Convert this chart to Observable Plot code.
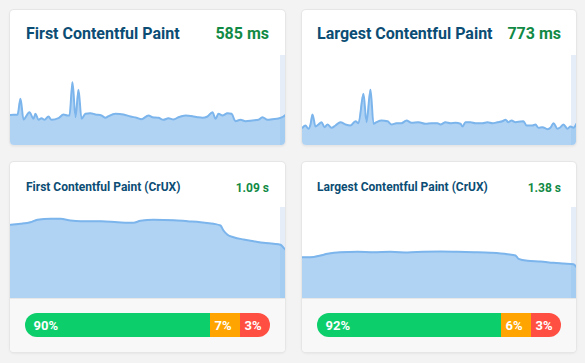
<!DOCTYPE html>
<html>
<head>
<meta charset="utf-8">
<script src="https://cdn.jsdelivr.net/npm/d3@7"></script>
<script src="https://cdn.jsdelivr.net/npm/@observablehq/plot@0.6"></script>
<style>
  html, body { margin: 0; padding: 0; background: #f3f3f3; width: 585px; height: 363px; overflow: hidden; font-family: Roboto, "Noto Sans", sans-serif; }
  .card { position: absolute; background: #fff; border-radius: 4px; box-shadow: 0 0 0 1px #e6e6e6, 0 1px 3px rgba(0,0,0,0.10); overflow: hidden; }
  .title { position: absolute; font-weight: 700; color: #0b4d74; line-height: 1; white-space: nowrap; }
  .value { position: absolute; font-weight: 700; color: #118a45; line-height: 1; white-space: nowrap; }
  .big { font-size: 16px; }
  .small { font-size: 12px; }
  .chart { position: absolute; left: 0; }
  .chart svg { display: block; }
  .footer { position: absolute; left: 0; right: 0; background: #f8f8f8; border-top: 1px solid #e8e8e8; }
  .bar { position: absolute; border-radius: 12px; overflow: hidden; height: 24px; }
  .bar svg { display: block; }
</style>
</head>
<body>
<script>
// ---- Data ----
// Lab: First Contentful Paint (ms) over samples
const fcpT = [0,3,7,10,13,19,23,25,28,31,34,38,41,48,53,57,59,62,65,68,71,75,80,85,91,95,98,105,113,120,126,131,138,142,148,153,158,163,168,175,182,187,192,197,202,205,208,212,217,221,225,230,235,242,248,252,257,262,268,273,275];
const fcpMs = [610,614,614,934,520,666,534,634,514,546,514,580,514,546,620,600,600,1266,566,1114,534,634,646,620,600,554,586,634,620,580,554,526,600,566,554,514,546,520,566,600,586,566,554,580,666,534,634,600,646,634,486,514,486,500,514,566,514,526,540,580,610];
const fcpLabel = "585 ms";

// Lab: Largest Contentful Paint (ms)
const lcpT = [0,3,6,8,10,13,16,19,22,25,29,33,38,43,48,53,56,61,64,68,71,74,79,85,89,94,99,104,109,116,123,129,135,138,143,148,153,158,160,163,168,173,180,185,190,195,200,203,206,209,213,218,221,224,230,233,236,240,245,248,251,255,258,261,265,268,271,274];
const lcpMs = [708,800,668,840,1240,760,840,932,732,840,708,800,932,840,800,972,892,2068,932,2228,868,932,1000,972,840,892,892,1000,908,932,868,892,892,840,932,892,908,868,760,932,932,892,892,932,892,932,972,1028,932,1000,932,960,972,800,800,840,708,732,652,708,892,668,732,840,668,760,708,868];
const lcpLabel = "773 ms";

// CrUX: First Contentful Paint p75 (s)
const cruxFcpT = [0,10,20,27,40,50,60,70,90,107,123,130,143,163,177,190,203,210,213,217,223,233,243,253,263,270,274,275];
const cruxFcpS = [1.053,1.067,1.090,1.124,1.139,1.139,1.114,1.104,1.104,1.090,1.081,1.110,1.124,1.119,1.104,1.090,1.067,1.043,0.971,0.910,0.876,0.843,0.819,0.796,0.781,0.767,0.710,0.700];
const cruxFcpLabel = "1.09 s";
const cruxFcpDist = [90, 7, 3];

// CrUX: Largest Contentful Paint p75 (s)
const cruxLcpT = [0,8,18,25,38,55,71,88,105,121,138,155,171,188,205,213,216,225,238,251,261,271,274];
const cruxLcpS = [1.225,1.225,1.276,1.326,1.374,1.386,1.374,1.386,1.365,1.386,1.395,1.386,1.374,1.356,1.314,1.276,1.178,1.119,1.098,1.059,1.039,1.018,0.929];
const cruxLcpLabel = "1.38 s";
const cruxLcpDist = [92, 6, 3];

const bucketNames = ["good", "needs improvement", "poor"];
const bucketColors = ["#0cce6b", "#ffa400", "#ff4e42"];

const LINE = "#7cb5ec";
const BAND = "#e4edf8";

function card(left, top, w, h) {
  const d = document.createElement("div");
  d.className = "card";
  Object.assign(d.style, {left: left + "px", top: top + "px", width: w + "px", height: h + "px"});
  document.body.appendChild(d);
  return d;
}
function text(parent, cls, str, pos) {
  const s = document.createElement("div");
  s.className = cls;
  s.textContent = str;
  Object.assign(s.style, pos);
  parent.appendChild(s);
}
function areaChart(parent, t, v, yMax, w, h, top) {
  const data = t.map((x, i) => ({t: x, v: v[i]}));
  const last = t[t.length - 1];
  const band = [{x1: last - 5, x2: last}];
  const svg = Plot.plot({
    width: w, height: h, margin: 0,
    x: {domain: [0, last], axis: null},
    y: {domain: [0, yMax], axis: null},
    marks: [
      Plot.rect(band, {x1: "x1", x2: "x2", fill: BAND}),
      Plot.areaY(data, {x: "t", y: "v", fill: LINE, fillOpacity: 0.6, curve: "monotone-x"}),
      Plot.lineY(data, {x: "t", y: "v", stroke: LINE, strokeWidth: 2, curve: "monotone-x"})
    ]
  });
  const wrap = document.createElement("div");
  wrap.className = "chart";
  wrap.style.top = top + "px";
  wrap.appendChild(svg);
  parent.appendChild(wrap);
}
function distBar(parent, dist, left, top, w) {
  // small buckets keep a minimum visible width; "good" takes the rest
  const minShare = 30 / w * 100;
  const shares = dist.map(p => Math.max(p, minShare));
  shares[0] = 100 - shares[1] - shares[2];
  let acc = 0;
  const segs = dist.map((p, i) => {
    const s = {name: bucketNames[i], pct: p, x1: acc, x2: acc + shares[i], color: bucketColors[i], first: i === 0};
    acc += shares[i];
    return s;
  });
  const svg = Plot.plot({
    width: w, height: 24, margin: 0,
    x: {domain: [0, 100], axis: null},
    marks: [
      Plot.rectX(segs, {x1: "x1", x2: "x2", fill: "color"}),
      Plot.text(segs.filter(s => s.first), {x: "x1", text: d => d.pct + "%", textAnchor: "start", dx: 8, fill: "white", fontSize: 13, fontWeight: 700, frameAnchor: "middle"}),
      Plot.text(segs.filter(s => !s.first), {x: "x1", text: d => d.pct + "%", textAnchor: "start", dx: 4, fill: "white", fontSize: 13, fontWeight: 700, frameAnchor: "middle"})
    ]
  });
  svg.style.fontFamily = "Roboto, sans-serif";
  const b = document.createElement("div");
  b.className = "bar";
  Object.assign(b.style, {left: left + "px", top: top + "px", width: w + "px"});
  b.appendChild(svg);
  parent.appendChild(b);
}

// Card 1
const c1 = card(10, 10, 275, 135);
text(c1, "title big", "First Contentful Paint", {left: "16px", top: "15.5px"});
text(c1, "value big", fcpLabel, {right: "16px", top: "15.5px"});
areaChart(c1, fcpT, fcpMs, 1800, 275, 90, 45);

// Card 2
const c2 = card(302, 10, 274, 135);
text(c2, "title big", "Largest Contentful Paint", {left: "15px", top: "15.5px"});
text(c2, "value big", lcpLabel, {right: "15px", top: "15.5px"});
areaChart(c2, lcpT, lcpMs, 3600, 274, 90, 45);

// Card 3
const c3 = card(10, 162, 275, 190);
text(c3, "title small", "First Contentful Paint (CrUX)", {left: "16px", top: "19px"});
text(c3, "value small", cruxFcpLabel, {right: "16px", top: "19.5px"});
areaChart(c3, cruxFcpT, cruxFcpS, 1.3, 275, 91, 45);
const f3 = document.createElement("div"); f3.className = "footer";
Object.assign(f3.style, {top: "136px", height: "54px"}); c3.appendChild(f3);
distBar(c3, cruxFcpDist, 15, 151, 245);

// Card 4
const c4 = card(302, 162, 274, 190);
text(c4, "title small", "Largest Contentful Paint (CrUX)", {left: "15px", top: "19px"});
text(c4, "value small", cruxLcpLabel, {right: "15px", top: "19.5px"});
areaChart(c4, cruxLcpT, cruxLcpS, 2.7, 274, 91, 45);
const f4 = document.createElement("div"); f4.className = "footer";
Object.assign(f4.style, {top: "136px", height: "54px"}); c4.appendChild(f4);
distBar(c4, cruxLcpDist, 15, 151, 244);
</script>
</body>
</html>
